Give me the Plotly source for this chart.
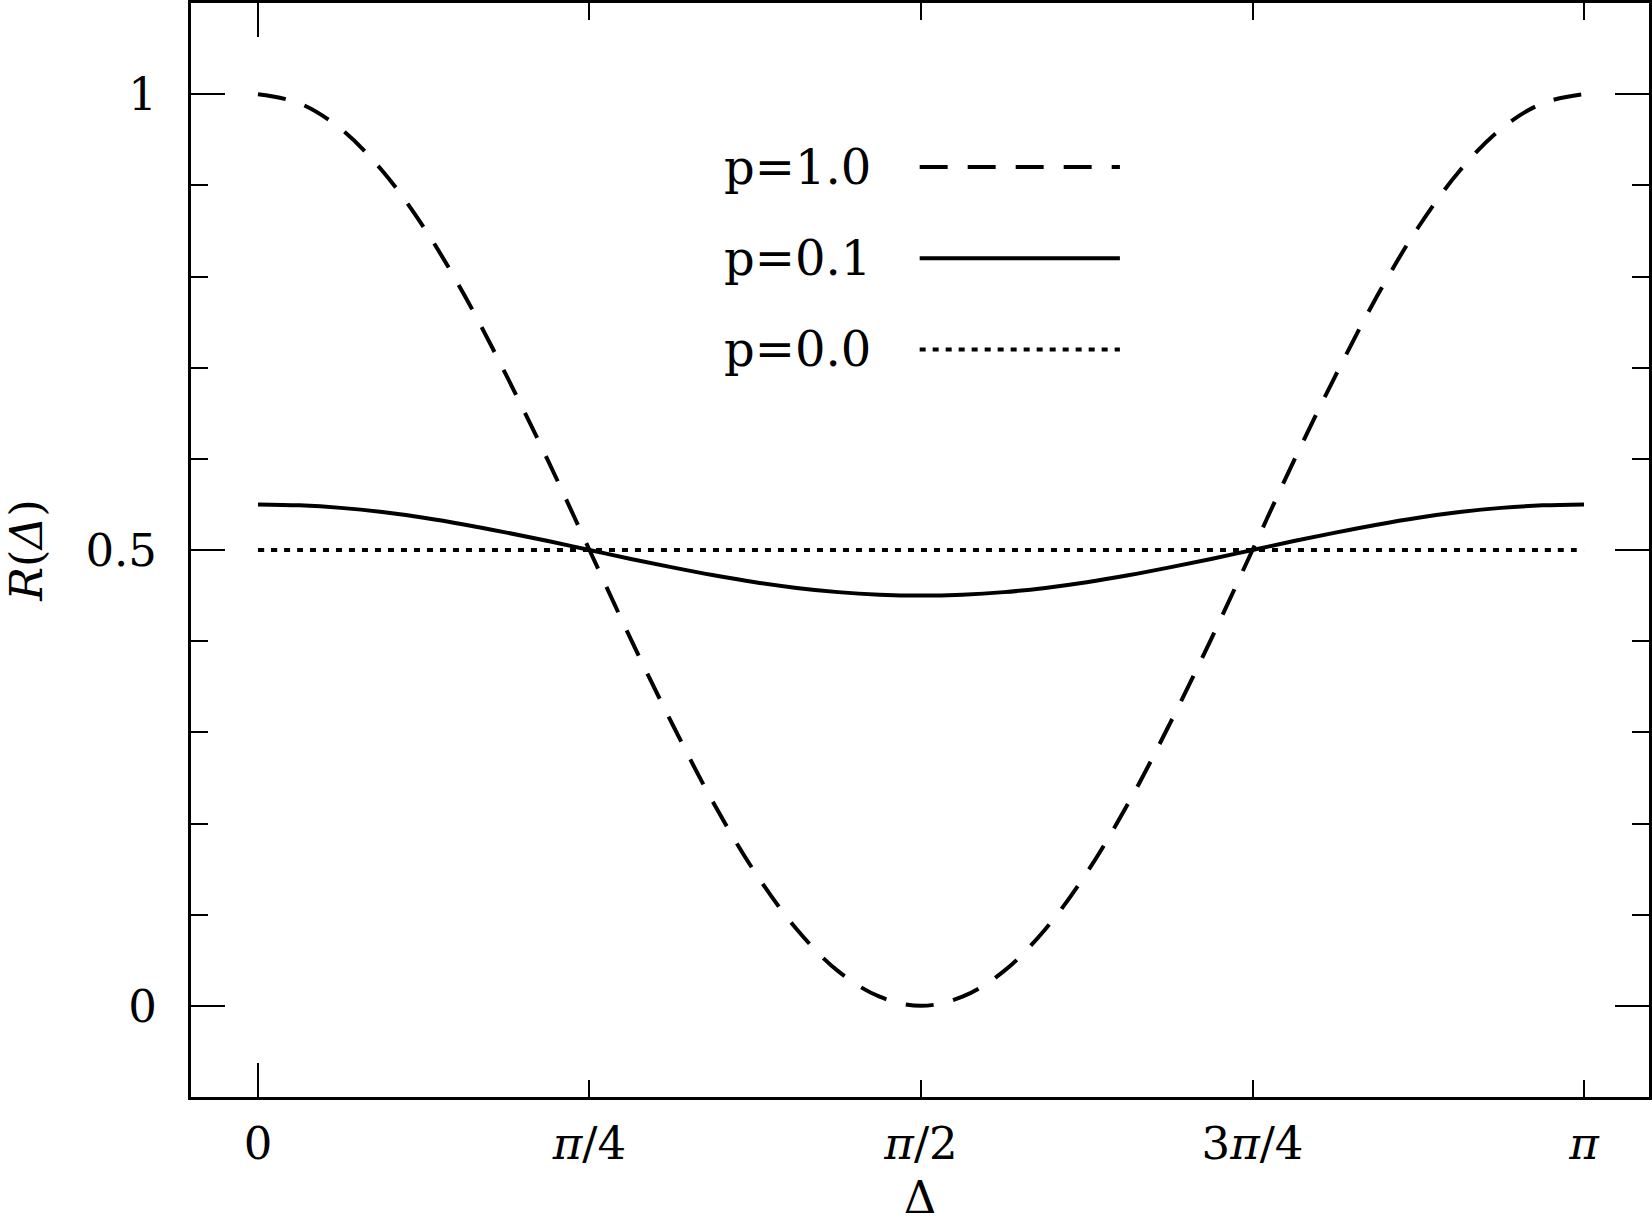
import plotly.graph_objects as go

# Delta in units of pi (0 .. 1), sampled every pi/32
delta = [0, 0.03125, 0.0625, 0.09375, 0.125, 0.15625, 0.1875, 0.21875, 0.25,
         0.28125, 0.3125, 0.34375, 0.375, 0.40625, 0.4375, 0.46875, 0.5,
         0.53125, 0.5625, 0.59375, 0.625, 0.65625, 0.6875, 0.71875, 0.75,
         0.78125, 0.8125, 0.84375, 0.875, 0.90625, 0.9375, 0.96875, 1.0]

# values
r_p10 = [1.000, 0.990, 0.962, 0.916, 0.854, 0.778, 0.691, 0.598, 0.500,
         0.402, 0.309, 0.222, 0.146, 0.084, 0.038, 0.010, 0.000,
         0.010, 0.038, 0.084, 0.146, 0.222, 0.309, 0.402, 0.500,
         0.598, 0.691, 0.778, 0.854, 0.916, 0.962, 0.990, 1.000]
r_p01 = [0.5500, 0.5490, 0.5462, 0.5416, 0.5354, 0.5278, 0.5191, 0.5098, 0.5000,
         0.4902, 0.4809, 0.4722, 0.4646, 0.4584, 0.4538, 0.4510, 0.4500,
         0.4510, 0.4538, 0.4584, 0.4646, 0.4722, 0.4809, 0.4902, 0.5000,
         0.5098, 0.5191, 0.5278, 0.5354, 0.5416, 0.5462, 0.5490, 0.5500]
r_p00 = [0.50] * 33

labels = ["p=1.0", "p=0.1", "p=0.0"]
x_ticks = [0, 0.25, 0.5, 0.75, 1.0]
x_ticktext = ["0", "<i>π</i>/4", "<i>π</i>/2", "3<i>π</i>/4", "<i>π</i>"]
y_ticks = [0, 0.5, 1]
y_ticktext = ["0", "0.5", "1"]

FONT = "DejaVu Serif"
dashes = ["28px,20px", "solid", "6px,7px"]
series = [r_p10, r_p01, r_p00]

fig = go.Figure()
for name, vals, dash in zip(labels, series, dashes):
    fig.add_trace(go.Scatter(
        x=delta, y=vals, mode="lines", name=name,
        line=dict(color="black", width=4, dash=dash, shape="spline", smoothing=1),
        showlegend=False,
    ))

# empty trace so the overlay axis (long tick at 0) is drawn
fig.add_trace(go.Scatter(x=[], y=[], xaxis="x2", showlegend=False))

# hand-made legend: text on the left, line sample on the right
leg_y = [0.92, 0.82, 0.72]
for name, dash, yy in zip(labels, dashes, leg_y):
    fig.add_annotation(x=0.350, y=yy, xref="x", yref="y", text=name,
                       showarrow=False, xanchor="left", yanchor="middle",
                       font=dict(family=FONT, size=48, color="black"))
    fig.add_shape(type="line", xref="x", yref="y", x0=0.499, x1=0.650, y0=yy, y1=yy,
                  line=dict(color="black", width=4, dash=dash))

axis_font = dict(family=FONT, size=45, color="black")

fig.update_layout(
    width=1652, height=1224,
    margin=dict(l=191, r=3, t=3, b=127),
    plot_bgcolor="white", paper_bgcolor="white",
    font=dict(family=FONT, color="black"),
    xaxis=dict(
        range=[-0.0505, 1.049], showgrid=False, zeroline=False, automargin=False,
        showline=True, linewidth=3, linecolor="black", mirror="ticks",
        ticks="inside", ticklen=17, tickwidth=2, tickcolor="black",
        tickvals=x_ticks, ticktext=x_ticktext, tickfont=axis_font,
        ticklabelstandoff=5,
        title=dict(text="Δ", font=dict(family=FONT, size=45), standoff=19),
    ),
    xaxis2=dict(
        overlaying="x", matches="x", side="bottom", range=[-0.0505, 1.049],
        showgrid=False, zeroline=False, showline=False, mirror="ticks",
        ticks="inside", ticklen=34, tickwidth=2, tickcolor="black",
        tickvals=[0], showticklabels=False, automargin=False,
    ),
    yaxis=dict(
        range=[-0.1, 1.1], showgrid=False, zeroline=False, automargin=False,
        showline=True, linewidth=3, linecolor="black", mirror="ticks",
        ticks="inside", ticklen=34, tickwidth=2, tickcolor="black",
        tickvals=y_ticks, ticktext=y_ticktext, tickfont=axis_font,
        ticklabelstandoff=22,
        minor=dict(dtick=0.1, tick0=0, ticks="inside", ticklen=17,
                   tickwidth=2, tickcolor="black", showgrid=False),
        title=dict(text="<i>R</i>(<i>Δ</i>)", font=dict(family=FONT, size=45), standoff=38),
    ),
)

# drop the browser's default page margin so the figure sits at the top-left corner
fig.write_html("out.html", config={"displayModeBar": False},
               post_script="document.body.style.margin='0';")
